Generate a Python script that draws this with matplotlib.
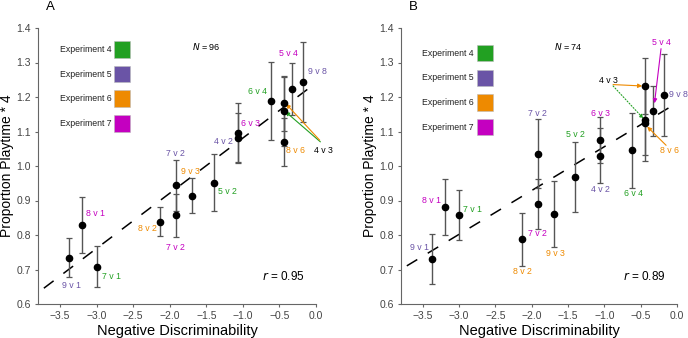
import matplotlib
matplotlib.use("Agg")
import matplotlib.pyplot as plt
import numpy as np

plt.rcParams['font.family'] = ['Liberation Sans', 'DejaVu Sans']

# comparisons (same order in both panels)
pairs = ["9 v 1", "8 v 1", "7 v 1", "8 v 2", "7 v 2", "7 v 2", "9 v 3", "5 v 2",
         "4 v 2", "6 v 3", "6 v 4", "4 v 3", "4 v 3", "8 v 6", "5 v 4", "9 v 8"]
experiment = [5, 7, 4, 6, 7, 5, 6, 4, 5, 7, 4, 4, 6, 6, 7, 5]
discrim = [-3.38, -3.20, -3.00, -2.13, -1.92, -1.92, -1.69, -1.40,
           -1.06, -1.06, -0.62, -0.44, -0.44, -0.44, -0.33, -0.18]

# panel A (N = 96)
mean_a = [0.734, 0.829, 0.708, 0.839, 0.857, 0.944, 0.914, 0.952,
          1.082, 1.097, 1.188, 1.159, 1.182, 1.070, 1.223, 1.244]
err_a = [0.056, 0.082, 0.060, 0.043, 0.062, 0.073, 0.050, 0.083,
         0.072, 0.085, 0.114, 0.100, 0.080, 0.070, 0.075, 0.116]
fit_a = (0.160, 1.241)   # slope, intercept
n_a, r_a = 96, 0.95

# panel B (N = 74)
mean_b = [0.731, 0.881, 0.857, 0.787, 0.889, 1.035, 0.861, 0.969,
          1.030, 1.075, 1.045, 1.133, 1.232, 1.124, 1.159, 1.206]
err_b = [0.072, 0.081, 0.072, 0.077, 0.072, 0.100, 0.095, 0.102,
         0.080, 0.066, 0.110, 0.100, 0.082, 0.110, 0.072, 0.120]
fit_b = (0.127, 1.183)
n_b, r_b = 74, 0.89

exp_colors = {4: '#22a022', 5: '#6a54a6', 6: '#ee8a00', 7: '#c400c0'}
xticks = [-3.5, -3.0, -2.5, -2.0, -1.5, -1.0, -0.5, 0.0]
yticks = [0.6, 0.7, 0.8, 0.9, 1.0, 1.1, 1.2, 1.3, 1.4]

# label positions (data coords), None = handled by arrows
lab_a = [(-3.34, 0.653), (-3.02, 0.863), (-2.80, 0.681), (-2.30, 0.818),
         (-1.92, 0.763), (-1.92, 1.035), (-1.71, 0.983), (-1.21, 0.926),
         (-1.27, 1.070), (-0.90, 1.122), (-0.80, 1.215), None, None,
         (-0.28, 1.044), (-0.37, 1.327), (0.015, 1.273)]
lab_b = [(-3.55, 0.764), (-3.38, 0.900), (-2.82, 0.874), (-2.13, 0.694),
         (-1.92, 0.803), (-1.92, 1.151), (-1.67, 0.745), (-1.40, 1.090),
         (-1.05, 0.932), (-1.055, 1.153), (-0.60, 0.921), None, None,
         None, None, (0.025, 1.206)]

fig = plt.figure(figsize=(6.88, 3.38), dpi=100)
ax_a = fig.add_axes([38 / 688, 34 / 338, 278 / 688, 276 / 338])
ax_b = fig.add_axes([401 / 688, 34 / 338, 276 / 688, 276 / 338])


def arrow(ax, start, end, color, style='-'):
    ax.annotate('', xy=end, xytext=start,
                arrowprops=dict(arrowstyle='-|>', color=color, lw=0.8, linestyle=style,
                                mutation_scale=6, shrinkA=0, shrinkB=0))


def draw_panel(ax, means, errs, fit, labels, n, r, letter, leg_y0):
    for sp in ['top', 'right']:
        ax.spines[sp].set_visible(False)
    for sp in ['left', 'bottom']:
        ax.spines[sp].set_color('#666666')
    ax.set_xlim(-3.8, 0.0)
    ax.set_ylim(0.6, 1.4)
    ax.set_xticks(xticks)
    ax.set_xticklabels([f"\u2212{abs(t):.1f}" if t < 0 else f"{t:.1f}" for t in xticks])
    ax.set_yticks(yticks)
    ax.set_yticklabels([f"{t:.1f}" for t in yticks])
    ax.tick_params(direction='out', length=2.5, width=0.8, color='#666666',
                   labelcolor='#444444', labelsize=7.5, pad=2.5)
    ax.set_xlabel('Negative Discriminability', fontsize=10.5, labelpad=2)
    ax.set_ylabel('Proportion Playtime * 4', fontsize=10, labelpad=1.5)

    xs = np.array([-3.72, -0.07])
    ax.plot(xs, fit[1] + fit[0] * xs, color='black', lw=1.1, dashes=(8, 8), zorder=2)

    ax.errorbar(discrim, means, yerr=errs, fmt='none', ecolor='#555555',
                elinewidth=1.0, capsize=2.5, capthick=0.9, zorder=3)
    ax.plot(discrim, means, 'o', color='black', markersize=4.5, zorder=4)

    for i, pos in enumerate(labels):
        if pos is None:
            continue
        ax.text(pos[0], pos[1], pairs[i], color=exp_colors[experiment[i]],
                fontsize=6.3, ha='center', va='center', clip_on=False)

    ax.text(-1.50, 1.345, r'$N$ = ' + str(n), fontsize=6.5, ha='center', va='center')
    ax.text(-0.45, 0.679, r'$r$ = ' + f"{r:.2f}", fontsize=8.5, ha='center', va='center')
    ax.text(-3.63, 1.461, letter, fontsize=9.5, ha='center', va='center',
            clip_on=False)

    # legend boxes
    for k, e in enumerate([4, 5, 6, 7]):
        y = leg_y0 - k * 0.0715
        ax.text(-2.795, y, f"Experiment {e}", fontsize=6.3, ha='right', va='center',
                color='#222222')
        ax.add_patch(plt.Rectangle((-2.758, y - 0.024), 0.22, 0.048,
                                   facecolor=exp_colors[e], edgecolor='#bbbbbb', lw=0.4))


draw_panel(ax_a, mean_a, err_a, fit_a, lab_a, n_a, r_a, 'A', 1.338)
ax_a.text(0.10, 1.046, '4 v 3', fontsize=6.3, ha='center', va='center', clip_on=False)
arrow(ax_a, (0.06, 1.070), (-0.42, 1.158), exp_colors[4])
arrow(ax_a, (0.05, 1.075), (-0.41, 1.180), exp_colors[6])

draw_panel(ax_b, mean_b, err_b, fit_b, lab_b, n_b, r_b, 'B', 1.327)
ax_b.text(-0.95, 1.249, '4 v 3', fontsize=6.3, ha='center', va='center')
ax_b.text(-0.11, 1.044, '8 v 6', fontsize=6.3, ha='center', va='center',
          color=exp_colors[6])
ax_b.text(-0.22, 1.357, '5 v 4', fontsize=6.3, ha='center', va='center',
          color=exp_colors[7])
arrow(ax_b, (-0.88, 1.236), (-0.48, 1.232), exp_colors[6])
arrow(ax_b, (-0.88, 1.232), (-0.46, 1.137), exp_colors[4], style=':')
arrow(ax_b, (-0.22, 1.340), (-0.31, 1.182), exp_colors[7])
arrow(ax_b, (-0.15, 1.060), (-0.41, 1.114), exp_colors[6])

fig.savefig('out.png', dpi=100)
